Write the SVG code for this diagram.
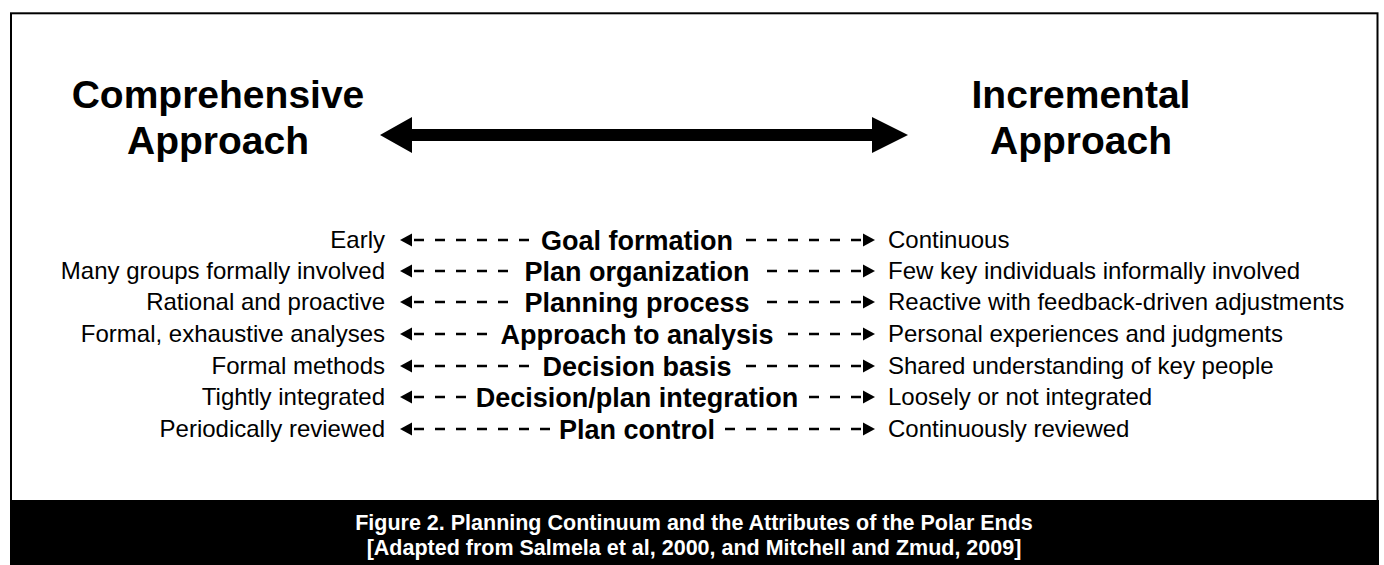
<svg xmlns="http://www.w3.org/2000/svg" width="1384" height="565" viewBox="0 0 1384 565">
  <style>
    .title { font-family: "Liberation Sans", Arial, sans-serif; font-weight: bold; font-size: 39px; fill: #000; text-anchor: middle; }
    .side { font-family: "Liberation Sans", Arial, sans-serif; font-size: 24px; fill: #000; }
    .left { text-anchor: end; }
    .right { text-anchor: start; }
    .attr { font-family: "Liberation Sans", Arial, sans-serif; font-weight: bold; font-size: 27px; fill: #000; text-anchor: middle; }
    .dash { stroke: #000; stroke-width: 2.6; stroke-dasharray: 10 11; fill: none; }
    .head { fill: #000; }
    .cap { font-family: "Liberation Sans", Arial, sans-serif; font-weight: bold; font-size: 21.5px; fill: #fff; text-anchor: middle; }
  </style>

  <rect width="1384" height="565" fill="#fff"/>
  <!-- frame -->
  <rect x="11" y="13.3" width="1366.5" height="500" fill="none" stroke="#000" stroke-width="2"/>

  <!-- caption bar -->
  <g id="caption">
    <rect x="10" y="500" width="1369" height="65" fill="#000"/>
    <text class="cap" x="694" y="530">Figure 2. Planning Continuum and the Attributes of the Polar Ends</text>
    <text class="cap" x="694" y="555">[Adapted from Salmela et al, 2000, and Mitchell and Zmud, 2009]</text>
  </g>

  <!-- poles -->
  <g id="comprehensive">
    <text class="title" x="218" y="108">Comprehensive</text>
    <text class="title" x="218" y="154">Approach</text>
  </g>
  <g id="incremental">
    <text class="title" x="1081" y="108">Incremental</text>
    <text class="title" x="1081" y="154">Approach</text>
  </g>

  <!-- attribute rows -->
  <g id="goal-formation">
    <text class="side left" x="385" y="248">Early</text>
    <text class="attr" x="637" y="249.5">Goal formation</text>
    <text class="side right" x="888" y="248">Continuous</text>
  </g>
  <g id="plan-organization">
    <text class="side left" x="385" y="279">Many groups formally involved</text>
    <text class="attr" x="637" y="280.5">Plan organization</text>
    <text class="side right" x="888" y="279">Few key individuals informally involved</text>
  </g>
  <g id="planning-process">
    <text class="side left" x="385" y="310">Rational and proactive</text>
    <text class="attr" x="637" y="311.5">Planning process</text>
    <text class="side right" x="888" y="310">Reactive with feedback-driven adjustments</text>
  </g>
  <g id="approach-to-analysis">
    <text class="side left" x="385" y="342">Formal, exhaustive analyses</text>
    <text class="attr" x="637" y="343.5">Approach to analysis</text>
    <text class="side right" x="888" y="342">Personal experiences and judgments</text>
  </g>
  <g id="decision-basis">
    <text class="side left" x="385" y="374">Formal methods</text>
    <text class="attr" x="637" y="375.5">Decision basis</text>
    <text class="side right" x="888" y="374">Shared understanding of key people</text>
  </g>
  <g id="decision-plan-integration">
    <text class="side left" x="385" y="405">Tightly integrated</text>
    <text class="attr" x="637" y="406.5">Decision/plan integration</text>
    <text class="side right" x="888" y="405">Loosely or not integrated</text>
  </g>
  <g id="plan-control">
    <text class="side left" x="385" y="437">Periodically reviewed</text>
    <text class="attr" x="637" y="438.5">Plan control</text>
    <text class="side right" x="888" y="437">Continuously reviewed</text>
  </g>

  <!-- connectors -->
  <g id="connectors">
    <!-- main continuum arrow -->
    <polygon points="380,135 412,117 412,129 872,129 872,117 908,135 872,153 872,141 412,141 412,153" fill="#000"/>

    <!-- dashed two-way arrows; each half starts at its head so the dash run ends cleanly -->
    <polygon class="head" points="400,240 412,233.5 412,246.5"/>
    <path class="dash" d="M414,240 H529"/>
    <path class="dash" d="M861,240 H746"/>
    <polygon class="head" points="875,240 863,233.5 863,246.5"/>

    <polygon class="head" points="400,271 412,264.5 412,277.5"/>
    <path class="dash" d="M414,271 H508"/>
    <path class="dash" d="M861,271 H767"/>
    <polygon class="head" points="875,271 863,264.5 863,277.5"/>

    <polygon class="head" points="400,302 412,295.5 412,308.5"/>
    <path class="dash" d="M414,302 H508"/>
    <path class="dash" d="M861,302 H767"/>
    <polygon class="head" points="875,302 863,295.5 863,308.5"/>

    <polygon class="head" points="400,334 412,327.5 412,340.5"/>
    <path class="dash" d="M414,334 H487"/>
    <path class="dash" d="M861,334 H788"/>
    <polygon class="head" points="875,334 863,327.5 863,340.5"/>

    <polygon class="head" points="400,366 412,359.5 412,372.5"/>
    <path class="dash" d="M414,366 H529"/>
    <path class="dash" d="M861,366 H746"/>
    <polygon class="head" points="875,366 863,359.5 863,372.5"/>

    <polygon class="head" points="400,397 412,390.5 412,403.5"/>
    <path class="dash" d="M414,397 H466"/>
    <path class="dash" d="M861,397 H809"/>
    <polygon class="head" points="875,397 863,390.5 863,403.5"/>

    <polygon class="head" points="400,429 412,422.5 412,435.5"/>
    <path class="dash" d="M414,429 H550"/>
    <path class="dash" d="M861,429 H725"/>
    <polygon class="head" points="875,429 863,422.5 863,435.5"/>
  </g>
</svg>
